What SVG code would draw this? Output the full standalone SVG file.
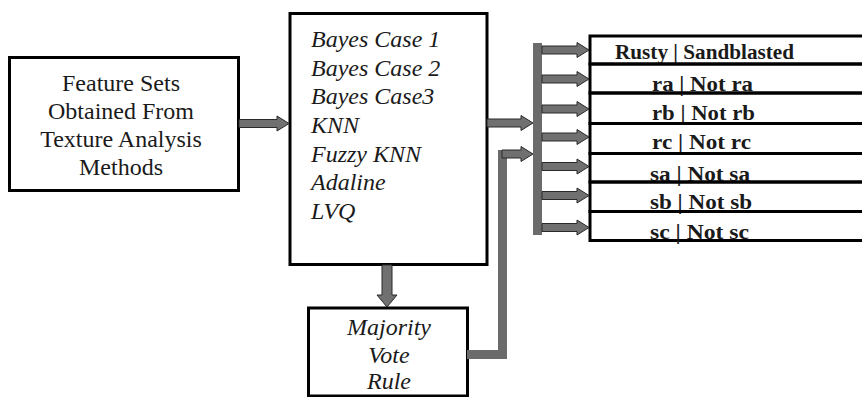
<svg xmlns="http://www.w3.org/2000/svg" width="862" height="397" viewBox="0 0 862 397">
<style>
.box{fill:#fff;stroke:#000;stroke-width:3}
.row{fill:none;stroke:#000;stroke-width:3}
.t{font-family:"Liberation Serif","DejaVu Serif",serif;font-size:24px;fill:#1a1a1a}
.i{font-style:italic}
.b{font-weight:bold;font-size:20px}
.arr{fill:#707070;stroke:#2a2a2a;stroke-width:1}
.bar{fill:#6b6b6b}
</style>
<rect width="862" height="397" fill="#fff"/>
<g id="features">
<rect class="box" x="9.5" y="57.5" width="229" height="133"/>
<text class="t" text-anchor="middle" x="121" y="91">Feature Sets</text>
<text class="t" text-anchor="middle" x="121" y="119">Obtained From</text>
<text class="t" text-anchor="middle" x="121" y="147">Texture Analysis</text>
<text class="t" text-anchor="middle" x="121" y="175">Methods</text>
</g>
<g id="classifiers">
<rect class="box" x="290" y="13.5" width="197" height="251"/>
<text class="t i" x="311" y="47">Bayes Case 1</text>
<text class="t i" x="311" y="75.5">Bayes Case 2</text>
<text class="t i" x="311" y="104">Bayes Case3</text>
<text class="t i" x="311" y="132.5">KNN</text>
<text class="t i" x="311" y="161.5">Fuzzy KNN</text>
<text class="t i" x="311" y="190">Adaline</text>
<text class="t i" x="311" y="219">LVQ</text>
</g>
<g id="majority">
<rect class="box" x="308.5" y="308" width="159" height="88"/>
<text class="t i" text-anchor="middle" x="389" y="335">Majority</text>
<text class="t i" text-anchor="middle" x="389" y="363">Vote</text>
<text class="t i" text-anchor="middle" x="389" y="389">Rule</text>
</g>
<g id="outputs">
<g id="rusty"><rect class="row" x="590" y="36" width="290" height="28"/><text class="t b" x="615" y="59" textLength="179" lengthAdjust="spacingAndGlyphs">Rusty | Sandblasted</text></g>
<g id="ra"><rect class="row" x="590" y="64" width="290" height="29"/><text class="t b" x="652" y="91" textLength="101" lengthAdjust="spacingAndGlyphs">ra | Not ra</text></g>
<g id="rb"><rect class="row" x="590" y="93" width="290" height="30.5"/><text class="t b" x="652" y="119.5" textLength="103" lengthAdjust="spacingAndGlyphs">rb | Not rb</text></g>
<g id="rc"><rect class="row" x="590" y="123.5" width="290" height="30"/><text class="t b" x="652" y="149" textLength="99" lengthAdjust="spacingAndGlyphs">rc | Not rc</text></g>
<g id="sa"><rect class="row" x="590" y="153.5" width="290" height="28.5"/><text class="t b" x="650" y="181" textLength="100" lengthAdjust="spacingAndGlyphs">sa | Not sa</text></g>
<g id="sb"><rect class="row" x="590" y="182" width="290" height="29.5"/><text class="t b" x="650" y="209" textLength="102" lengthAdjust="spacingAndGlyphs">sb | Not sb</text></g>
<g id="sc"><rect class="row" x="590" y="211.5" width="290" height="29"/><text class="t b" x="650" y="239" textLength="99" lengthAdjust="spacingAndGlyphs">sc | Not sc</text></g>
</g>
<g id="connectors">
<polygon class="arr" points="239,119.5 277,119.5 277,116 289,123.5 277,131 277,127.5 239,127.5"/>
<polygon class="arr" points="487,119 521,119 521,115.5 533,123 521,130.5 521,127 487,127"/>
<polygon class="arr" points="382,265 392,265 392,295 397,295 387,307 377,295 382,295"/>
<polygon class="bar" points="467,350 498,350 498,150 507,150 507,359 467,359"/>
<polygon class="arr" points="502,150 521,150 521,146.5 533,154 521,161.5 521,158 502,158"/>
<rect class="bar" x="533" y="43" width="9" height="192"/>
<polygon class="arr" points="542,46 577,46 577,42.5 589,50 577,57.5 577,54 542,54"/>
<polygon class="arr" points="542,75 577,75 577,71.5 589,79 577,86.5 577,83 542,83"/>
<polygon class="arr" points="542,105 577,105 577,101.5 589,109 577,116.5 577,113 542,113"/>
<polygon class="arr" points="542,133 577,133 577,129.5 589,137 577,144.5 577,141 542,141"/>
<polygon class="arr" points="542,162.5 577,162.5 577,159 589,166.5 577,174 577,170.5 542,170.5"/>
<polygon class="arr" points="542,191.5 577,191.5 577,188 589,195.5 577,203 577,199.5 542,199.5"/>
<polygon class="arr" points="542,223.5 577,223.5 577,220 589,227.5 577,235 577,231.5 542,231.5"/>
</g>
</svg>
